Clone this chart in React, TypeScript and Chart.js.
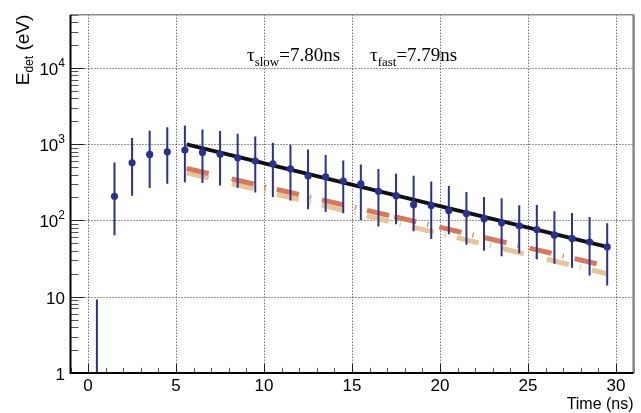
import React, { useEffect, useRef } from "react";
import { Chart, registerables } from "chart.js";

Chart.register(...registerables);

// ---- data ----
const binCenters = [0.5, 1.5, 2.5, 3.5, 4.5, 5.5, 6.5, 7.5, 8.5, 9.5, 10.5, 11.5, 12.5, 13.5, 14.5, 15.5, 16.5, 17.5, 18.5, 19.5, 20.5, 21.5, 22.5, 23.5, 24.5, 25.5, 26.5, 27.5, 28.5, 29.5];
const energies = [null, 207, 570, 735, 795, 837, 780, 741, 664, 601, 553, 476, 382, 374, 328, 303, 241, 211, 161, 157, 135, 123, 105, 93, 85, 76, 64, 58, 52, 45];
const errUpper = [9.2, 577, 1202, 1500, 1675, 1763, 1560, 1486, 1368, 1264, 1043, 981, 855, 720, 612, 543, 472, 409, 385, 325, 282, 236, 203, 195, 158, 159, 132, 125, 111, 92];
const errLower = [0.5, 64, 211, 266, 303, 316, 309, 288, 268, 233, 203, 183, 140, 129, 124, 101, 83, 89, 72, 57, 66, 48, 40, 34, 37, 31, 27, 24, 19, 14];

const fitTimes = [5.6, 29.5];
const fitValues = [994, 45];

const slowTimesA = [5.6, 17.4];
const slowValuesA = [482, 112];
const slowTimesB = [17.4, 29.5];
const slowValuesB = [112, 25.1];

const fastTimes = [5.6, 29.5];
const fastValues = [422, 20.0];

const xTickValues = [0, 5, 10, 15, 20, 25, 30];
const yDecades = [1, 10, 100, 1000, 10000];
const yExponents = ["", "", "2", "3", "4"];
const yBaseLabels = ["1", "10", "10", "10", "10"];

const tauSlowText = "=7.80ns";
const tauFastText = "=7.79ns";

const BLUE = "#2a3192";
const RED = "#d77a5c";
const TAN = "#e6c596";

const SANS = '"Liberation Sans", Arial, Helvetica, sans-serif';
const SERIF = '"Liberation Serif", "Times New Roman", serif';

function pts(xs: number[], ys: (number | null)[]) {
  return xs.map((x, i) => ({ x, y: ys[i] }));
}

const rootPlugin = {
  id: "rootStyle",
  beforeDatasetsDraw(chart: any) {
    const { ctx, chartArea: a, scales } = chart;
    const x = scales.x;
    const y = scales.y;
    ctx.save();
    ctx.strokeStyle = "#2e2e2e";
    ctx.lineWidth = 1;
    ctx.setLineDash([1, 2]);
    for (const v of xTickValues) {
      const px = Math.round(x.getPixelForValue(v)) + 0.5;
      ctx.beginPath();
      ctx.moveTo(px, a.top);
      ctx.lineTo(px, a.bottom);
      ctx.stroke();
    }
    for (const v of yDecades) {
      if (v <= y.min || v >= y.max) continue;
      const py = Math.round(y.getPixelForValue(v)) + 0.5;
      ctx.beginPath();
      ctx.moveTo(a.left, py);
      ctx.lineTo(a.right, py);
      ctx.stroke();
    }
    ctx.restore();
  },
  afterDatasetsDraw(chart: any) {
    const { ctx, chartArea: a, scales } = chart;
    const x = scales.x;
    const y = scales.y;
    ctx.save();
    ctx.beginPath();
    ctx.rect(a.left, a.top, a.right - a.left, a.bottom - a.top);
    ctx.clip();
    ctx.strokeStyle = BLUE;
    ctx.lineWidth = 2;
    for (let i = 0; i < binCenters.length; i++) {
      const px = x.getPixelForValue(binCenters[i]);
      const top = y.getPixelForValue(errUpper[i]);
      const bot = Math.min(a.bottom, y.getPixelForValue(Math.max(errLower[i], 1e-3)));
      ctx.beginPath();
      ctx.moveTo(px, top);
      ctx.lineTo(px, bot);
      ctx.stroke();
    }
    ctx.restore();
  },
  afterDraw(chart: any) {
    const { ctx, chartArea: a, scales } = chart;
    const x = scales.x;
    const y = scales.y;
    ctx.save();
    ctx.setLineDash([]);

    // ticks on y axis
    ctx.lineWidth = 1;
    for (const d of yDecades) {
      for (let m = 1; m <= 9; m++) {
        const v = m * d;
        if (v < y.min || v > y.max) continue;
        const py = Math.round(y.getPixelForValue(v)) + 0.5;
        const len = m === 1 ? 14 : 8;
        ctx.strokeStyle = m === 1 ? "#222" : "#555";
        ctx.beginPath();
        ctx.moveTo(a.left, py);
        ctx.lineTo(a.left + len, py);
        ctx.stroke();
      }
    }
    // ticks on x axis
    for (let v = Math.ceil(x.min); v <= x.max; v++) {
      const px = Math.round(x.getPixelForValue(v)) + 0.5;
      const major = v % 5 === 0;
      ctx.strokeStyle = major ? "#222" : "#555";
      ctx.beginPath();
      ctx.moveTo(px, a.bottom);
      ctx.lineTo(px, a.bottom - (major ? 9 : 5));
      ctx.stroke();
    }

    // frame
    ctx.strokeStyle = "#8a8a8a";
    ctx.lineWidth = 1.5;
    ctx.beginPath();
    ctx.moveTo(a.left, a.top);
    ctx.lineTo(a.right, a.top);
    ctx.stroke();
    ctx.lineWidth = 2.5;
    ctx.beginPath();
    ctx.moveTo(a.right, a.top);
    ctx.lineTo(a.right, a.bottom);
    ctx.stroke();
    ctx.strokeStyle = "#000";
    ctx.lineWidth = 2;
    ctx.beginPath();
    ctx.moveTo(a.left, a.top);
    ctx.lineTo(a.left, a.bottom);
    ctx.lineTo(a.right, a.bottom);
    ctx.stroke();

    // y tick labels
    ctx.fillStyle = "#000";
    ctx.textBaseline = "alphabetic";
    for (let i = 0; i < yDecades.length; i++) {
      const py = y.getPixelForValue(yDecades[i]);
      ctx.font = `17px ${SANS}`;
      const base = yBaseLabels[i];
      const exp = yExponents[i];
      const wb = ctx.measureText(base).width;
      ctx.font = `12px ${SANS}`;
      const we = exp ? ctx.measureText(exp).width : 0;
      const right = 65;
      const left = right - wb - we;
      ctx.font = `17px ${SANS}`;
      ctx.textAlign = "left";
      ctx.fillText(base, left, py + 7);
      if (exp) {
        ctx.font = `12px ${SANS}`;
        ctx.fillText(exp, left + wb, py - 1);
      }
    }

    // x tick labels
    ctx.font = `17px ${SANS}`;
    ctx.textAlign = "center";
    for (const v of xTickValues) {
      const px = x.getPixelForValue(v);
      ctx.fillText(String(v), px, a.bottom + 18);
    }

    // x title
    ctx.font = `16px ${SANS}`;
    ctx.textAlign = "right";
    ctx.fillText("Time (ns)", a.right, 409);

    // y title, rotated
    ctx.save();
    ctx.translate(29, a.top);
    ctx.rotate(-Math.PI / 2);
    ctx.textAlign = "left";
    ctx.font = `19px ${SANS}`;
    const wE = ctx.measureText("E").width;
    ctx.font = `12px ${SANS}`;
    const wDet = ctx.measureText("det").width;
    ctx.font = `19px ${SANS}`;
    const wRest = ctx.measureText(" (eV)").width;
    let cx = -(wE + wDet + wRest);
    ctx.fillText("E", cx, 0);
    cx += wE;
    ctx.font = `12px ${SANS}`;
    ctx.fillText("det", cx, 4);
    cx += wDet;
    ctx.font = `19px ${SANS}`;
    ctx.fillText(" (eV)", cx, 0);
    ctx.restore();

    // tau annotations
    const drawTau = (x0: number, sub: string, rest: string) => {
      let cx2 = x0;
      ctx.textAlign = "left";
      ctx.font = `19px ${SERIF}`;
      ctx.fillText("\u03c4", cx2, 61);
      cx2 += ctx.measureText("\u03c4").width;
      ctx.font = `13px ${SERIF}`;
      ctx.fillText(sub, cx2, 66);
      cx2 += ctx.measureText(sub).width;
      ctx.font = `19px ${SERIF}`;
      ctx.fillText(rest, cx2, 61);
    };
    drawTau(247, "slow", tauSlowText);
    drawTau(370, "fast", tauFastText);

    ctx.restore();
  },
};

export default function App() {
  const canvasRef = useRef<HTMLCanvasElement | null>(null);

  useEffect(() => {
    const canvas = canvasRef.current;
    if (!canvas) return;
    const dashPattern = [22.6, 11.3, 1.2, 11.2];
    const chart = new Chart(canvas, {
      type: "scatter",
      data: {
        datasets: [
          {
            label: "data",
            data: pts(binCenters, energies) as any,
            showLine: false,
            pointRadius: 3.6,
            pointBackgroundColor: BLUE,
            pointBorderColor: BLUE,
            pointBorderWidth: 0,
            order: 0,
          },
          {
            label: "fit",
            data: pts(fitTimes, fitValues),
            showLine: true,
            borderColor: "#111",
            borderWidth: 4,
            pointRadius: 0,
            order: 1,
          },
          {
            label: "slowA",
            data: pts(slowTimesA, slowValuesA),
            showLine: true,
            borderColor: RED,
            borderWidth: 5,
            borderDash: dashPattern,
            pointRadius: 0,
            order: 2,
          },
          {
            label: "slowB",
            data: pts(slowTimesB, slowValuesB),
            showLine: true,
            borderColor: RED,
            borderWidth: 5,
            borderDash: dashPattern,
            pointRadius: 0,
            order: 2,
          },
          {
            label: "fast",
            data: pts(fastTimes, fastValues),
            showLine: true,
            borderColor: TAN,
            borderWidth: 5,
            borderDash: dashPattern,
            pointRadius: 0,
            order: 3,
          },
        ],
      },
      options: {
        animation: false,
        responsive: false,
        events: [],
        layout: {
          autoPadding: false,
          padding: { left: 70.5, right: 7.4, top: 14.7, bottom: 40.1 },
        },
        plugins: {
          legend: { display: false },
          tooltip: { enabled: false },
          title: { display: false },
        },
        scales: {
          x: {
            type: "linear",
            min: -1,
            max: 31,
            grid: { display: false },
            border: { display: false },
            ticks: { display: false },
            afterFit: (s: any) => {
              s.height = 0;
            },
          },
          y: {
            type: "logarithmic",
            min: 1,
            max: 50000,
            grid: { display: false },
            border: { display: false },
            ticks: { display: false },
            afterFit: (s: any) => {
              s.width = 0;
            },
          },
        },
      },
      plugins: [rootPlugin],
    });
    return () => chart.destroy();
  }, []);

  return (
    <div style={{ position: "fixed", left: 0, top: 0, width: 641, height: 413, background: "#fff" }}>
      <canvas ref={canvasRef} width={641} height={413} style={{ display: "block" }} />
    </div>
  );
}
